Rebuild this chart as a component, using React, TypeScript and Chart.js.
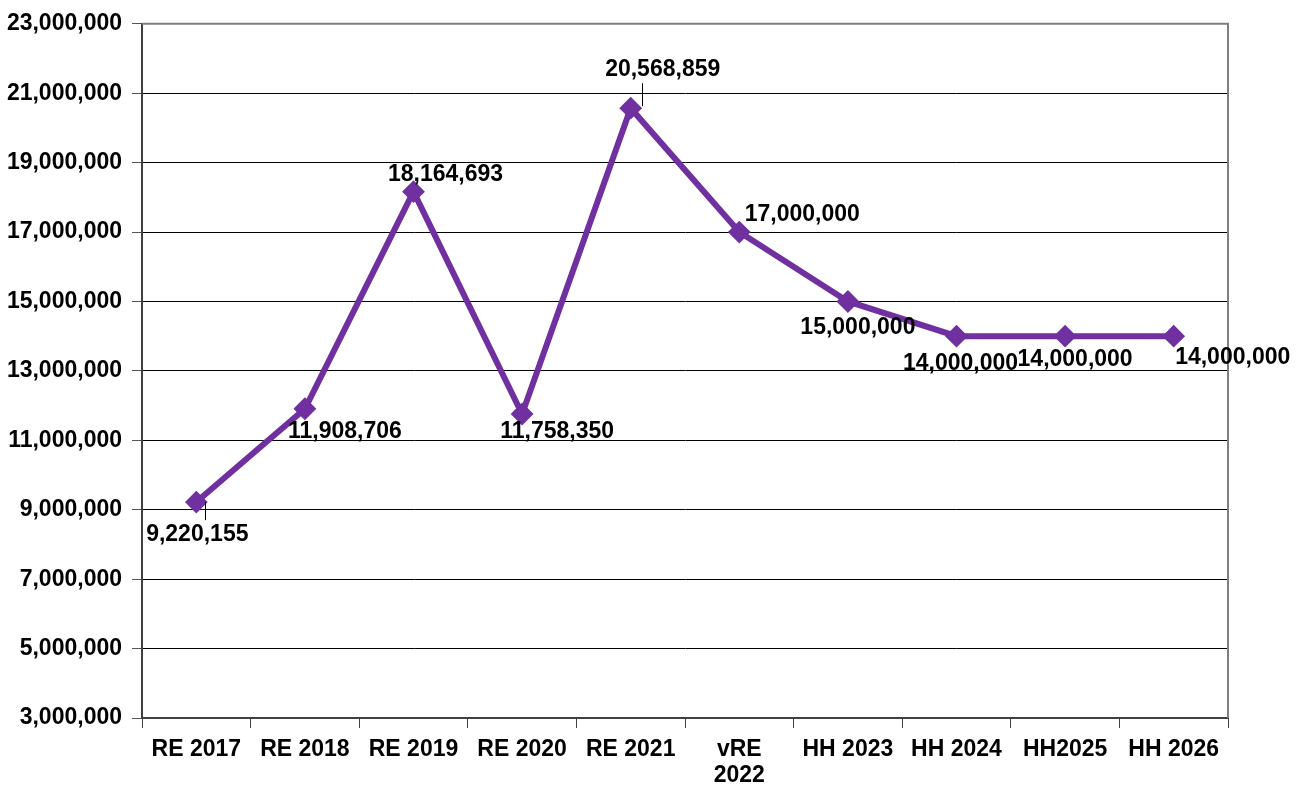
import React, { useEffect, useRef } from "react";
import { Chart, registerables } from "chart.js";

Chart.register(...registerables);

const categories: (string | string[])[] = [
  "RE 2017",
  "RE 2018",
  "RE 2019",
  "RE 2020",
  "RE 2021",
  ["vRE", "2022"],
  "HH 2023",
  "HH 2024",
  "HH2025",
  "HH 2026",
];
const values = [9220155, 11908706, 18164693, 11758350, 20568859, 17000000, 15000000, 14000000, 14000000, 14000000];
const yMin = 3000000;
const yMax = 23000000;
const yStep = 2000000;

// label placement (offset from point, px) — styling only
const labelOffsets: [number, number][] = [
  [1, 32],
  [40, 22],
  [32, -18],
  [35, 17],
  [32, -40],
  [63, -18],
  [10, 25],
  [4, 26],
  [10, 22],
  [59, 20],
];
// leader lines: index -> [dx, dy1, dy2]
const leaders: Record<number, [number, number, number]> = {
  0: [9, 0, 18],
  4: [11, -2, -25],
};

const FONT = "'Liberation Sans', Arial, sans-serif";
const PURPLE = "#7030A0";
const FS = 23;

const fmt = (v: number) => v.toLocaleString("en-US");

const labelPlugin = {
  id: "valueLabels",
  afterDatasetsDraw(chart: any) {
    const ctx = chart.ctx;
    const meta = chart.getDatasetMeta(0);
    ctx.save();
    ctx.font = `bold ${FS}px ${FONT}`;
    ctx.fillStyle = "#000";
    ctx.textAlign = "center";
    ctx.textBaseline = "middle";
    meta.data.forEach((pt: any, i: number) => {
      const [dx, dy] = labelOffsets[i];
      const l = leaders[i];
      if (l) {
        ctx.strokeStyle = "#000";
        ctx.lineWidth = 1;
        ctx.beginPath();
        ctx.moveTo(Math.round(pt.x + l[0]) + 0.5, pt.y + l[1]);
        ctx.lineTo(Math.round(pt.x + l[0]) + 0.5, pt.y + l[2]);
        ctx.stroke();
      }
      ctx.fillText(fmt(values[i]), pt.x + dx, pt.y + dy + 1);
    });
    ctx.restore();
  },
};

const framePlugin = {
  id: "frame",
  beforeDatasetsDraw(chart: any) {
    const { ctx, chartArea } = chart;
    ctx.save();
    ctx.strokeStyle = "#7f7f7f";
    ctx.lineWidth = 2;
    ctx.beginPath();
    ctx.moveTo(chartArea.left, chartArea.top);
    ctx.lineTo(chartArea.right, chartArea.top);
    ctx.lineTo(chartArea.right, chartArea.bottom);
    ctx.stroke();
    ctx.restore();
  },
};

export default function App() {
  const ref = useRef<HTMLCanvasElement | null>(null);
  useEffect(() => {
    if (!ref.current) return;
    const chart = new Chart(ref.current, {
      type: "line",
      data: {
        labels: categories as any,
        datasets: [
          {
            data: values,
            borderColor: PURPLE,
            backgroundColor: PURPLE,
            borderWidth: 6,
            pointStyle: "rectRot",
            pointRadius: 10,
            pointBorderWidth: 2,
            pointBorderColor: PURPLE,
            pointBackgroundColor: PURPLE,
            tension: 0,
            clip: false as any,
          },
        ],
      },
      options: {
        animation: false,
        responsive: true,
        maintainAspectRatio: false,
        layout: { padding: { top: 22, right: 76, left: 0, bottom: 0 } },
        plugins: { legend: { display: false }, tooltip: { enabled: false } },
        scales: {
          x: {
            offset: true,
            afterFit: (s: any) => {
              s.height = 69;
            },
            grid: {
              offset: true,
              drawOnChartArea: false,
              drawTicks: true,
              tickLength: 10,
              color: "#404040",
              lineWidth: 1,
            },
            border: { display: true, color: "#404040", width: 2 },
            ticks: {
              color: "#000",
              font: { family: FONT, size: FS, weight: "bold", lineHeight: 1.15 },
              padding: 8,
              maxRotation: 0,
              autoSkip: false,
            },
          },
          y: {
            min: yMin,
            max: yMax,
            afterFit: (s: any) => {
              s.width = 142;
            },
            grid: {
              color: "#000",
              lineWidth: 1,
              tickLength: 10,
              tickColor: "#555",
              drawTicks: true,
            },
            border: { display: true, color: "#404040", width: 2 },
            ticks: {
              stepSize: yStep,
              color: "#000",
              padding: 10,
              font: { family: FONT, size: FS, weight: "bold" },
              callback: (v: any) => fmt(Number(v)),
            },
          },
        },
      },
      plugins: [framePlugin, labelPlugin],
    });
    return () => chart.destroy();
  }, []);
  return (
    <div style={{ position: "fixed", left: 0, top: 0, width: 1304, height: 787, background: "#fff" }}>
      <canvas ref={ref} />
    </div>
  );
}
